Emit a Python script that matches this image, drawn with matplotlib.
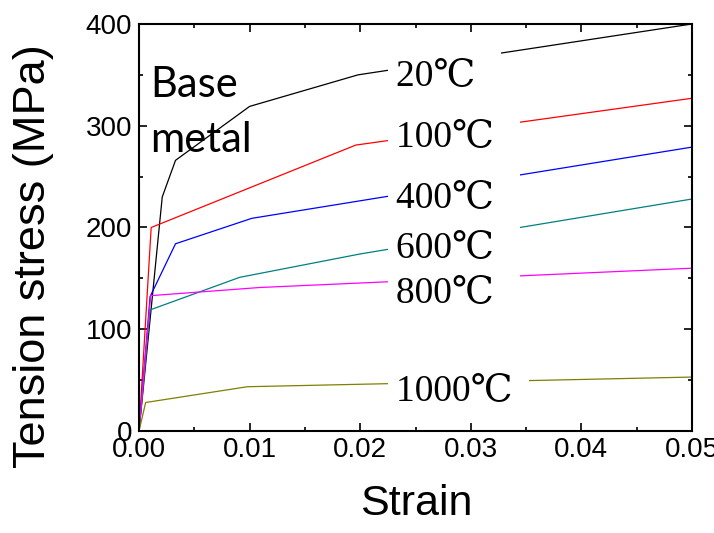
import matplotlib
matplotlib.use("Agg")
import matplotlib.pyplot as plt
from matplotlib.ticker import MultipleLocator

# strain / stress curves for base metal at each temperature
strain_20 = [0, 0.0021, 0.0033, 0.0100, 0.0198, 0.05]
stress_20 = [0, 230, 266, 319, 350, 400]

strain_100 = [0, 0.0011, 0.0196, 0.05]
stress_100 = [0, 200, 281, 327]

strain_400 = [0, 0.0010, 0.0033, 0.0102, 0.05]
stress_400 = [0, 132, 184, 209, 279]

strain_600 = [0, 0.0010, 0.0091, 0.0200, 0.05]
stress_600 = [0, 119, 151, 174, 228]

strain_800 = [0, 0.00105, 0.0109, 0.05]
stress_800 = [0, 133, 141, 160]

strain_1000 = [0, 0.0006, 0.0098, 0.05]
stress_1000 = [0, 28, 43.5, 53]

labels = ["20℃", "100℃", "400℃", "600℃", "800℃", "1000℃"]
label_y = [340, 280, 220, 171, 127, 30.5]
colors = ["black", "#ff0000", "#0000ff", "#008080", "#ff00ff", "#808000"]

xticks = [0, 0.01, 0.02, 0.03, 0.04, 0.05]
xtick_labels = ["0.00", "0.01", "0.02", "0.03", "0.04", "0.05"]

curves = [
    (strain_20, stress_20),
    (strain_100, stress_100),
    (strain_400, stress_400),
    (strain_600, stress_600),
    (strain_800, stress_800),
    (strain_1000, stress_1000),
]

fig = plt.figure(figsize=(7.14, 5.33), dpi=100)
ax = fig.add_axes([0.1947, 0.1914, 0.7745, 0.7636])

for (x, y), c in zip(curves, colors):
    ax.plot(x, y, color=c, lw=0.9, zorder=2)

# temperature labels sit on white boxes that hide the curves behind them
for lab, ly in zip(labels, label_y):
    tail = " " if len(lab) > 4 else "  "
    ax.text(0.0232, ly, lab + tail, fontsize=27, va="baseline", ha="left",
            family=["Liberation Serif", "DejaVu Serif"], zorder=3,
            bbox=dict(boxstyle="square,pad=0.2", facecolor="white", edgecolor="none"))

ax.text(0.001, 274, "Base\nmetal", fontsize=30, family="Lato",
        va="baseline", ha="left", linespacing=1.55)

ax.set_xlim(0, 0.05)
ax.set_ylim(0, 400)
ax.set_xticks(xticks)
ax.set_xticklabels(xtick_labels)
ax.xaxis.set_minor_locator(MultipleLocator(0.005))
ax.yaxis.set_major_locator(MultipleLocator(100))
ax.yaxis.set_minor_locator(MultipleLocator(50))
for t in ax.get_xticklabels() + ax.get_yticklabels():
    t.set_family("Liberation Sans")
    t.set_fontsize(20)

ax.tick_params(which="both", direction="in", top=True, right=True, width=1.2)
ax.tick_params(which="major", length=6)
ax.tick_params(which="minor", length=3)
ax.tick_params(axis="x", pad=4.5)
ax.tick_params(axis="y", pad=5)
for s in ax.spines.values():
    s.set_linewidth(1.5)

ax.set_xlabel("Strain", fontsize=31, family="Liberation Sans")
ax.set_ylabel("Tension stress (MPa)", fontsize=32.5, family="Liberation Sans")
ax.xaxis.set_label_coords(0.5009, -0.130)
ax.yaxis.set_label_coords(-0.154, 0.43)

fig.savefig("out.png", dpi=100)
